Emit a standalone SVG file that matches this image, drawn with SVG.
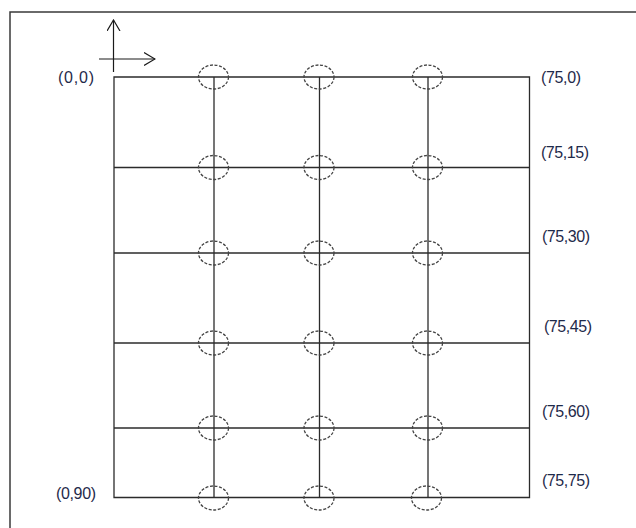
<svg xmlns="http://www.w3.org/2000/svg" width="636" height="528" viewBox="0 0 636 528">
<style>
.frame{fill:none;stroke:#3a3a3a;stroke-width:1.5}
.grid{stroke:#2b2b2b;stroke-width:1.3;fill:none}
.axis{stroke:#1a1a1a;stroke-width:1.2;fill:none}
.hole{fill:none;stroke:#444;stroke-width:1.3;stroke-dasharray:3 1.6}
.lbl{font-family:"Liberation Sans",Arial,sans-serif;font-size:16px;fill:#1f2a4a}
</style>
<defs>
<marker id="chev" viewBox="0 0 12 14" refX="11" refY="7" markerWidth="12" markerHeight="14" markerUnits="userSpaceOnUse" orient="auto">
<polyline points="0,0.5 11,7 0,13.5" fill="none" stroke="#1a1a1a" stroke-width="1.2"/>
</marker>
</defs>
<rect width="636" height="528" fill="#ffffff"/>
<path class="frame" d="M10,528 V12 H636"/>
<g id="axes">
<line class="axis" x1="113.5" y1="72" x2="113.5" y2="20" marker-end="url(#chev)"/>
<line class="axis" x1="99" y1="59" x2="155" y2="59" marker-end="url(#chev)"/>
</g>
<g id="connectors">
<path class="grid" d="M114,77 H529.5 V497.5 H114 Z"/>
<line class="grid" x1="114" y1="167.5" x2="529.5" y2="167.5"/>
<line class="grid" x1="114" y1="253" x2="529.5" y2="253"/>
<line class="grid" x1="114" y1="343" x2="529.5" y2="343"/>
<line class="grid" x1="114" y1="428" x2="529.5" y2="428"/>
<line class="grid" x1="214" y1="77" x2="214" y2="497.5"/>
<line class="grid" x1="319.5" y1="77" x2="319.5" y2="497.5"/>
<line class="grid" x1="428" y1="77" x2="428" y2="497.5"/>
</g>
<g id="holes">
<g id="h-1-1"><ellipse class="hole" cx="213.5" cy="77" rx="15" ry="12"/></g>
<g id="h-1-2"><ellipse class="hole" cx="319" cy="77" rx="15" ry="12"/></g>
<g id="h-1-3"><ellipse class="hole" cx="427.5" cy="77" rx="15" ry="12"/></g>
<g id="h-2-1"><ellipse class="hole" cx="213.5" cy="167.5" rx="15" ry="12"/></g>
<g id="h-2-2"><ellipse class="hole" cx="319" cy="167.5" rx="15" ry="12"/></g>
<g id="h-2-3"><ellipse class="hole" cx="427.5" cy="167.5" rx="15" ry="12"/></g>
<g id="h-3-1"><ellipse class="hole" cx="213.5" cy="253" rx="15" ry="12"/></g>
<g id="h-3-2"><ellipse class="hole" cx="319" cy="253" rx="15" ry="12"/></g>
<g id="h-3-3"><ellipse class="hole" cx="427.5" cy="253" rx="15" ry="12"/></g>
<g id="h-4-1"><ellipse class="hole" cx="213.5" cy="343" rx="15" ry="12"/></g>
<g id="h-4-2"><ellipse class="hole" cx="319" cy="343" rx="15" ry="12"/></g>
<g id="h-4-3"><ellipse class="hole" cx="427.5" cy="343" rx="15" ry="12"/></g>
<g id="h-5-1"><ellipse class="hole" cx="213.5" cy="428" rx="15" ry="12"/></g>
<g id="h-5-2"><ellipse class="hole" cx="319" cy="428" rx="15" ry="12"/></g>
<g id="h-5-3"><ellipse class="hole" cx="427.5" cy="428" rx="15" ry="12"/></g>
<g id="h-6-1"><ellipse class="hole" cx="213.5" cy="498" rx="15" ry="12"/></g>
<g id="h-6-2"><ellipse class="hole" cx="319" cy="498" rx="15" ry="12"/></g>
<g id="h-6-3"><ellipse class="hole" cx="426.5" cy="498" rx="15" ry="12"/></g>
</g>
<g id="labels">
<text class="lbl" x="58" y="83" textLength="36">(0,0)</text>
<text class="lbl" x="541" y="83" textLength="40">(75,0)</text>
<text class="lbl" x="541" y="158" textLength="48">(75,15)</text>
<text class="lbl" x="542" y="242" textLength="48">(75,30)</text>
<text class="lbl" x="544" y="332" textLength="48">(75,45)</text>
<text class="lbl" x="542" y="417" textLength="48">(75,60)</text>
<text class="lbl" x="542" y="486" textLength="48">(75,75)</text>
<text class="lbl" x="56" y="499" textLength="40">(0,90)</text>
</g>
</svg>
